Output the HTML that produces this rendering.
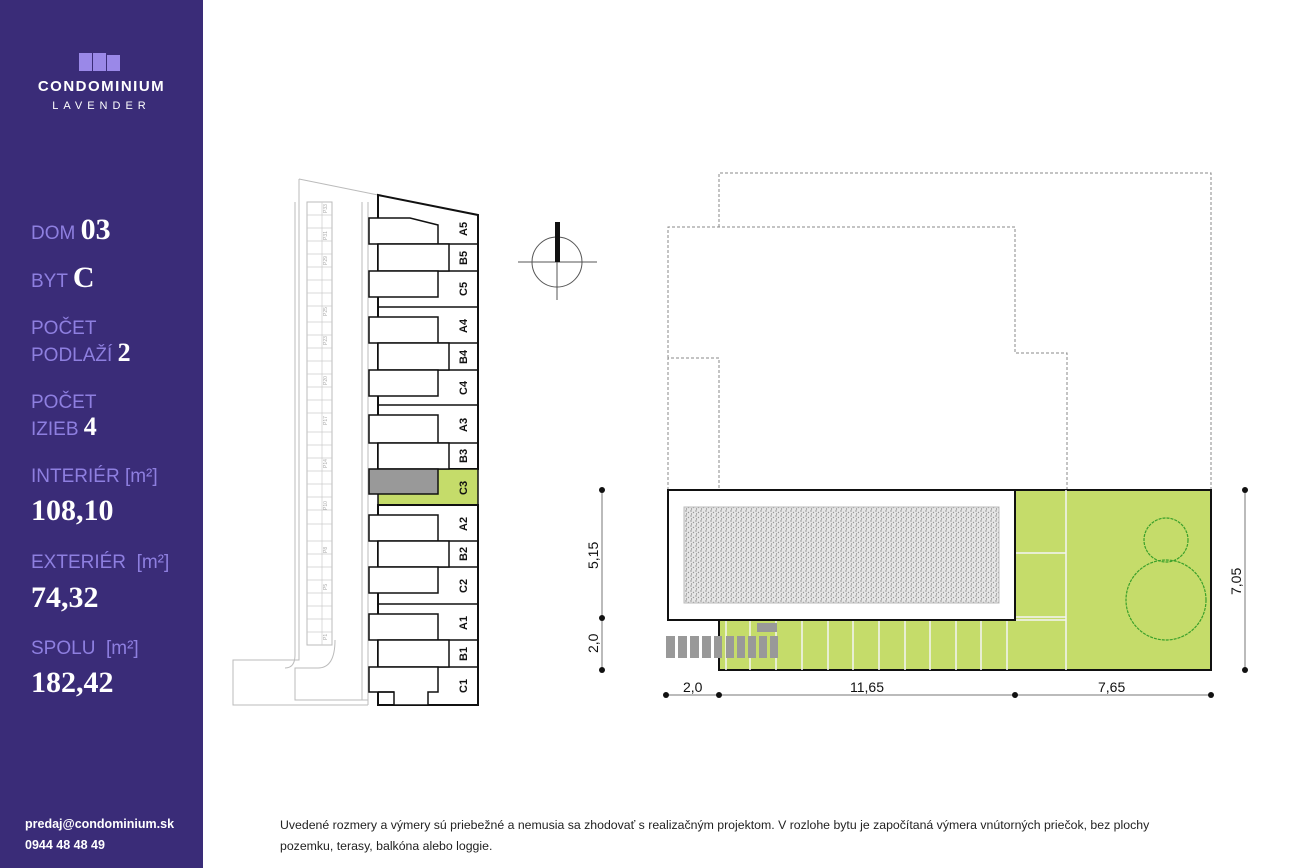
<!DOCTYPE html>
<html><head><meta charset="utf-8"><style>
body{margin:0;width:1307px;height:868px;position:relative;background:#fff;font-family:"Liberation Sans",sans-serif;overflow:hidden}
#side{position:absolute;left:0;top:0;width:203px;height:868px;background:#3a2c78}
.lbl{position:absolute;left:31px;color:#8e7fe0;font-size:19px;line-height:24px}
.big{font-family:"Liberation Serif",serif;font-weight:bold;color:#fff}
.num{position:absolute;left:31px;color:#fff;font-family:"Liberation Serif",serif;font-weight:bold;font-size:30px}
</style></head><body>
<div id="side">
<div style="position:absolute;left:79px;top:53px;width:13px;height:18px;background:#9a88e8"></div>
<div style="position:absolute;left:93px;top:53px;width:13px;height:18px;background:#9a88e8"></div>
<div style="position:absolute;left:107px;top:55px;width:13px;height:16px;background:#9a88e8"></div>
<div style="position:absolute;left:0;width:203px;top:78px;text-align:center;color:#fff;font-weight:bold;font-size:15px;letter-spacing:1.5px">CONDOMINIUM</div>
<div style="position:absolute;left:0;width:203px;top:100px;text-align:center;color:#fff;font-size:11px;letter-spacing:5px">LAVENDER</div>
<div class="lbl" style="top:218px">DOM <span class="big" style="font-size:30px">03</span></div>
<div class="lbl" style="top:266px">BYT <span class="big" style="font-size:30px">C</span></div>
<div class="lbl" style="top:317px">POČET<br>PODLAŽÍ <span class="big" style="font-size:26px">2</span></div>
<div class="lbl" style="top:391px">POČET<br>IZIEB <span class="big" style="font-size:26px">4</span></div>
<div class="lbl" style="top:465px">INTERIÉR [m²]</div>
<div class="num" style="top:494px">108,10</div>
<div class="lbl" style="top:551px">EXTERIÉR&nbsp; [m²]</div>
<div class="num" style="top:581px">74,32</div>
<div class="lbl" style="top:637px">SPOLU&nbsp; [m²]</div>
<div class="num" style="top:666px">182,42</div>
<div style="position:absolute;left:25px;top:814px;color:#fff;font-weight:bold;font-size:12.5px;line-height:21px">predaj@condominium.sk<br>0944 48 48 49</div>
</div>
<div style="position:absolute;left:280px;top:815px;font-size:12.3px;line-height:21px;color:#222">Uvedené rozmery a výmery sú priebežné a nemusia sa zhodovať s realizačným projektom. V rozlohe bytu je započítaná výmera vnútorných priečok, bez plochy<br>pozemku, terasy, balkóna alebo loggie.</div>
<svg width="1307" height="868" style="position:absolute;left:0;top:0" font-family="Liberation Sans,sans-serif">
<defs><pattern id="st" width="5" height="5" patternUnits="userSpaceOnUse"><rect width="5" height="5" fill="#e6e6e6"/><circle cx="1" cy="1" r=".7" fill="#888"/><circle cx="3.5" cy="2.5" r=".7" fill="#999"/><circle cx="1.5" cy="4" r=".6" fill="#777"/></pattern></defs>
<g fill="none" stroke="#bbb" stroke-width="1">
<path d="M299,179 L378,195"/><path d="M299,179 V660 H233 V705 H368"/>
<path d="M362,202 V700 M368,202 V705"/>
<path d="M295,202 V655 Q295,668 285,668 M335,640 Q335,668 318,668 H295 V700 H368"/>
<rect x="307" y="202" width="25" height="443"/>
</g>
<g stroke="#ccc" stroke-width="0.7">
<path d="M307,215H332M307,228H332M307,241H332M307,254H332M307,267H332M307,280H332M307,293H332M307,306H332M307,322H332M307,335H332M307,348H332M307,361H332M307,374H332M307,387H332M307,400H332M307,413H332M307,432H332M307,445H332M307,458H332M307,471H332M307,484H332M307,497H332M307,510H332M307,524H332M307,541H332M307,554H332M307,567H332M307,580H332M307,593H332M307,606H332M307,619H332M307,632H332M322,202V645"/>
</g>
<g font-size="5" fill="#aaa">
<text transform="translate(327,213) rotate(-90)">P33</text><text transform="translate(327,240) rotate(-90)">P31</text><text transform="translate(327,265) rotate(-90)">P29</text><text transform="translate(327,316) rotate(-90)">P25</text><text transform="translate(327,345) rotate(-90)">P23</text><text transform="translate(327,385) rotate(-90)">P20</text><text transform="translate(327,425) rotate(-90)">P17</text><text transform="translate(327,468) rotate(-90)">P14</text><text transform="translate(327,510) rotate(-90)">P10</text><text transform="translate(327,553) rotate(-90)">P8</text><text transform="translate(327,590) rotate(-90)">P5</text><text transform="translate(327,640) rotate(-90)">P1</text>
</g>
<polygon points="378,195 478,215 478,469 378,469" fill="#fff" stroke="#111" stroke-width="2"/>
<rect x="378" y="469" width="100" height="36" fill="#c5dc6a" stroke="#111" stroke-width="1.5"/>
<rect x="378" y="505" width="100" height="200" fill="#fff" stroke="#111" stroke-width="2"/>
<g stroke="#111" stroke-width="1.5" fill="#fff">
<path d="M378,244H478M378,271H478M378,307H478M378,343H478M378,370H478M378,405H478M378,443H478M378,541H478M378,567H478M378,604H478M378,640H478M378,667H478"/>
<path d="M369,218H410L438,225V244H369Z"/>
<rect x="378" y="244" width="71" height="27"/><rect x="369" y="271" width="69" height="26"/>
<rect x="369" y="317" width="69" height="26"/><rect x="378" y="343" width="71" height="27"/><rect x="369" y="370" width="69" height="26"/>
<rect x="369" y="415" width="69" height="28"/><rect x="378" y="443" width="71" height="26"/>
<rect x="369" y="469" width="69" height="25" fill="#999"/>
<rect x="369" y="515" width="69" height="26"/><rect x="378" y="541" width="71" height="26"/><rect x="369" y="567" width="69" height="26"/>
<rect x="369" y="614" width="69" height="26"/><rect x="378" y="640" width="71" height="27"/>
<path d="M369,667H438V692H428V705H394V692H369Z"/><path d="M378,692H394"/>
</g>
<g font-size="11" font-weight="bold" fill="#111">
<text transform="translate(467,236) rotate(-90)">A5</text><text transform="translate(467,265) rotate(-90)">B5</text><text transform="translate(467,296) rotate(-90)">C5</text>
<text transform="translate(467,333) rotate(-90)">A4</text><text transform="translate(467,364) rotate(-90)">B4</text><text transform="translate(467,395) rotate(-90)">C4</text>
<text transform="translate(467,432) rotate(-90)">A3</text><text transform="translate(467,463) rotate(-90)">B3</text><text transform="translate(467,495) rotate(-90)">C3</text>
<text transform="translate(467,531) rotate(-90)">A2</text><text transform="translate(467,561) rotate(-90)">B2</text><text transform="translate(467,593) rotate(-90)">C2</text>
<text transform="translate(467,630) rotate(-90)">A1</text><text transform="translate(467,661) rotate(-90)">B1</text><text transform="translate(467,693) rotate(-90)">C1</text>
</g>
<g stroke="#555" stroke-width="1" fill="none"><circle cx="557" cy="262" r="25"/><path d="M518,262H597M557,222V300"/></g>
<rect x="555" y="222" width="5" height="40" fill="#111"/>
<g fill="none" stroke="#888" stroke-dasharray="3,2" stroke-width="1">
<path d="M719,227V173H1211V490"/><path d="M668,490V358H719V490M668,358V227H1015V353H1067V490"/>
</g>
<rect x="719" y="490" width="492" height="180" fill="#c5dc6a" stroke="#111" stroke-width="2"/>
<g stroke="#f4f4f4" stroke-width="1.5">
<path d="M1066,490V670M1015,553H1066M1015,617H1066M719,620H1066"/>
<path d="M726,620V670M750,620V670M776,620V670M802,620V670M828,620V670M853,620V670M879,620V670M905,620V670M930,620V670M956,620V670M981,620V670M1007,620V670"/>
</g>
<rect x="668" y="490" width="347" height="130" fill="#fff" stroke="#111" stroke-width="2"/>
<rect x="684" y="507" width="315" height="96" fill="url(#st)" stroke="#bbb"/>
<g fill="#999"><rect x="666" y="636" width="9" height="22"/><rect x="678" y="636" width="9" height="22"/><rect x="690" y="636" width="9" height="22"/><rect x="702" y="636" width="9" height="22"/><rect x="714" y="636" width="8" height="22"/><rect x="726" y="636" width="8" height="22"/><rect x="737" y="636" width="8" height="22"/><rect x="748" y="636" width="8" height="22"/><rect x="759" y="636" width="8" height="22"/><rect x="770" y="636" width="8" height="22"/><rect x="757" y="623" width="20" height="9"/></g>
<g fill="none" stroke="#3aa02a" stroke-width="1.2"><circle cx="1166" cy="540" r="22" stroke-dasharray="3,1"/><circle cx="1166" cy="600" r="40" stroke-dasharray="3,1"/></g>
<g stroke="#777" stroke-width="1"><path d="M602,490V670M1245,490V670M666,695H1211"/></g>
<g fill="#111"><circle cx="602" cy="490" r="3"/><circle cx="602" cy="618" r="3"/><circle cx="602" cy="670" r="3"/><circle cx="1245" cy="490" r="3"/><circle cx="1245" cy="670" r="3"/><circle cx="666" cy="695" r="3"/><circle cx="719" cy="695" r="3"/><circle cx="1015" cy="695" r="3"/><circle cx="1211" cy="695" r="3"/></g>
<g font-size="14" fill="#111">
<text transform="translate(598,569) rotate(-90)">5,15</text><text transform="translate(598,653) rotate(-90)">2,0</text><text transform="translate(1241,595) rotate(-90)">7,05</text>
<text x="683" y="692">2,0</text><text x="850" y="692">11,65</text><text x="1098" y="692">7,65</text>
</g>
</svg>
</body></html>
